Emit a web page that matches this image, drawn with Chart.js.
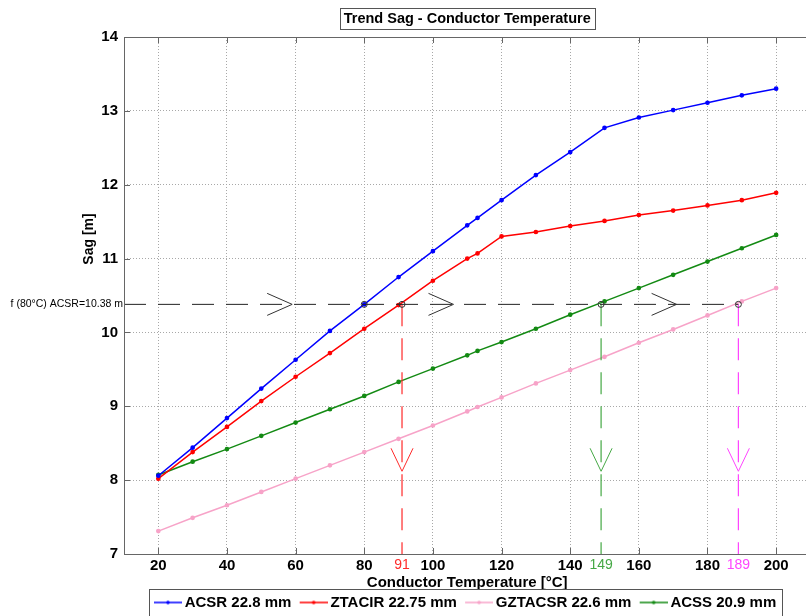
<!DOCTYPE html>
<html>
<head>
<meta charset="utf-8">
<script src="https://cdn.jsdelivr.net/npm/chart.js@4.4.0/dist/chart.umd.min.js"></script>
<style>
    html, body { margin: 0; padding: 0; background: #fff; overflow: hidden; }
</style>
</head>
<body>
<canvas id="sagChart" width="806" height="616"></canvas>
<script>
// conductor temperature [°C]
const temps = [20, 30, 40, 50, 60, 70, 80, 90, 100, 110, 113, 120, 130, 140, 150, 160, 170, 180, 190, 200];
// sag [m]
const sagACSR = [8.06, 8.44, 8.84, 9.24, 9.63, 10.02, 10.38, 10.75, 11.10, 11.45, 11.55, 11.79, 12.13, 12.44, 12.77, 12.91, 13.01, 13.11, 13.21, 13.30];
const sagZTACIR = [8.02, 8.38, 8.72, 9.07, 9.40, 9.72, 10.05, 10.37, 10.70, 11.00, 11.07, 11.30, 11.36, 11.44, 11.51, 11.59, 11.65, 11.72, 11.79, 11.89];
const sagGZTACSR = [7.31, 7.49, 7.66, 7.84, 8.02, 8.20, 8.38, 8.56, 8.74, 8.93, 8.99, 9.12, 9.31, 9.49, 9.67, 9.86, 10.04, 10.23, 10.42, 10.60];
const sagACSS = [8.07, 8.25, 8.42, 8.60, 8.78, 8.96, 9.14, 9.33, 9.51, 9.69, 9.75, 9.87, 10.05, 10.24, 10.42, 10.60, 10.78, 10.96, 11.14, 11.32];

const seriesNames = ['ACSR 22.8 mm', 'ZTACIR 22.75 mm', 'GZTACSR 22.6 mm', 'ACSS 20.9 mm'];
const xTicks = [20, 40, 60, 80, 100, 120, 140, 160, 180, 200];
const yTicks = [7, 8, 9, 10, 11, 12, 13, 14];

// reference: sag of ACSR at 80°C, and where the other conductors reach it
const refTemp = 80;
const refSag = 10.38;
const markTemps = [91, 149, 189];
const arrowTemps = [59, 106, 171];
const downArrowSag = 8.12;

const seriesColors = ['#0000ff', '#ff0000', '#f7a3c8', '#138a13'];
const markColors = ['#ff2a2a', '#45a845', '#ff44ff'];
const FONT = "'Liberation Sans', Arial, sans-serif";

Chart.defaults.font.family = FONT;

// legend sample: 28px line with a dot, shifted so the gap before the text is small
function legendImage(color) {
    var c = document.createElement('canvas');
    c.width = 33; c.height = 6;
    var g = c.getContext('2d');
    g.strokeStyle = color; g.lineWidth = 1.5;
    g.beginPath(); g.moveTo(5, 3); g.lineTo(33, 3); g.stroke();
    g.fillStyle = color;
    g.beginPath(); g.arc(19, 3, 1.8, 0, Math.PI * 2); g.fill();
    return c;
}

function points(xs, ys) {
    return xs.map(function (x, i) { return { x: x, y: ys[i] }; });
}

var seriesData = [sagACSR, sagZTACIR, sagGZTACSR, sagACSS];
var datasets = seriesData.map(function (vals, i) {
    return {
        label: seriesNames[i],
        data: points(temps, vals),
        borderColor: seriesColors[i],
        backgroundColor: seriesColors[i],
        borderWidth: 1.5,
        pointRadius: 1.6,
        pointHoverRadius: 1.6,
        order: 1
    };
});

// horizontal dashed line at the reference sag
datasets.push({
    label: 'ref',
    data: [{ x: 10, y: refSag }, { x: markTemps[2], y: refSag }],
    borderColor: '#222',
    borderWidth: 1,
    borderDash: [22, 12],
    pointRadius: 0,
    order: 0
});
// vertical dashed lines down to the temperature axis
markTemps.forEach(function (t, i) {
    datasets.push({
        label: 'mark' + t,
        data: [{ x: t, y: refSag }, { x: t, y: 7 }],
        borderColor: markColors[i],
        borderWidth: 1.2,
        borderDash: [22, 12],
        pointRadius: 0,
        order: 0
    });
});
// intersection circles
datasets.push({
    label: 'cross',
    data: [refTemp].concat(markTemps).map(function (t) { return { x: t, y: refSag }; }),
    showLine: false,
    pointStyle: 'circle',
    pointRadius: 3,
    pointBorderWidth: 1,
    pointBorderColor: '#333',
    pointBackgroundColor: 'rgba(0,0,0,0)',
    order: -1
});

function chevronRight(ctx, tipX, y) {
    ctx.beginPath();
    ctx.moveTo(tipX - 25, y - 11);
    ctx.lineTo(tipX, y);
    ctx.lineTo(tipX - 25, y + 11);
    ctx.stroke();
}
function chevronDown(ctx, x, tipY) {
    ctx.beginPath();
    ctx.moveTo(x - 11, tipY - 23);
    ctx.lineTo(x, tipY);
    ctx.lineTo(x + 11, tipY - 23);
    ctx.stroke();
}

const decor = {
    id: 'decor',
    afterDraw: function (chart) {
        var ctx = chart.ctx, a = chart.chartArea;
        var xs = chart.scales.x, ys = chart.scales.y;
        var midX = xs.getPixelForValue(110);
        ctx.save();

        // axes box + inner ticks
        ctx.strokeStyle = '#666'; ctx.lineWidth = 1; ctx.setLineDash([]);
        ctx.strokeRect(a.left + 0.5, a.top + 0.5, a.right - a.left + 20, a.bottom - a.top);
        ctx.beginPath();
        xTicks.forEach(function (t) {
            var px = Math.round(xs.getPixelForValue(t)) + 0.5;
            ctx.moveTo(px, a.top); ctx.lineTo(px, a.top + 6);
            ctx.moveTo(px, a.bottom); ctx.lineTo(px, a.bottom - 6);
        });
        yTicks.forEach(function (v) {
            var py = Math.round(ys.getPixelForValue(v)) + 0.5;
            ctx.moveTo(a.left, py); ctx.lineTo(a.left + 6, py);
        });
        ctx.stroke();

        // arrows
        var ry = ys.getPixelForValue(refSag);
        ctx.lineWidth = 1;
        ctx.strokeStyle = '#333';
        arrowTemps.forEach(function (t) { chevronRight(ctx, xs.getPixelForValue(t), ry); });
        markTemps.forEach(function (t, i) {
            ctx.strokeStyle = markColors[i];
            chevronDown(ctx, xs.getPixelForValue(t), ys.getPixelForValue(downArrowSag));
        });

        // reference label
        ctx.fillStyle = '#000';
        ctx.font = '10.5px ' + FONT;
        ctx.textAlign = 'right'; ctx.textBaseline = 'middle';
        ctx.fillText('f (80°C) ACSR=10.38 m', a.left - 1, ry);

        // title in a box
        ctx.font = 'bold 14.5px ' + FONT;
        ctx.textAlign = 'center';
        var title = 'Trend Sag - Conductor Temperature';
        var tw = ctx.measureText(title).width;
        ctx.fillText(title, midX, 19);
        ctx.strokeStyle = '#555';
        ctx.strokeRect(Math.round(midX - tw / 2 - 4) + 0.5, 8.5, Math.round(tw + 8), 21);

        // axis titles
        ctx.font = 'bold 15px ' + FONT;
        ctx.fillText('Conductor Temperature [°C]', midX, 583);
        ctx.save();
        ctx.translate(89, 239);
        ctx.rotate(-Math.PI / 2);
        ctx.font = 'bold 14px ' + FONT;
        ctx.fillText('Sag [m]', 0, 0);
        ctx.restore();

        // legend frame
        var lg = chart.legend, boxes = lg.legendHitBoxes;
        if (boxes && boxes.length) {
            var l = boxes[0].left - 5;
            var last = boxes[boxes.length - 1];
            var r = last.left + last.width + 5;
            ctx.strokeStyle = '#555';
            ctx.strokeRect(Math.round(l) + 0.5, 589.5, Math.round(r - l), 40);
        }
        ctx.restore();
    }
};

new Chart(document.getElementById('sagChart'), {
    type: 'line',
    data: { datasets: datasets },
    options: {
        responsive: false,
        animation: false,
        devicePixelRatio: 1,
        layout: { autoPadding: false, padding: { top: 37, left: 0, right: 0, bottom: -4 } },
        scales: {
            x: {
                type: 'linear',
                min: 10,
                max: 208.7,
                afterBuildTicks: function (scale) {
                    scale.ticks = xTicks.concat(markTemps).sort(function (p, q) { return p - q; })
                        .map(function (v) { return { value: v }; });
                },
                afterFit: function (scale) { scale.height = 33; },
                grid: {
                    color: function (c) {
                        return c.tick && markTemps.indexOf(c.tick.value) >= 0 ? 'rgba(0,0,0,0)' : '#a8a8a8';
                    },
                    lineWidth: 1,
                    tickLength: 0,
                    drawTicks: false
                },
                border: { display: false, dash: [1, 2] },
                ticks: {
                    autoSkip: false,
                    maxRotation: 0,
                    padding: 3,
                    color: function (c) {
                        var k = markTemps.indexOf(c.tick.value);
                        return k >= 0 ? markColors[k] : '#000';
                    },
                    font: function (c) {
                        var k = c.tick ? markTemps.indexOf(c.tick.value) : -1;
                        return k >= 0 ? { size: 14, weight: 'normal' } : { size: 15, weight: 'bold' };
                    },
                    callback: function (v) { return String(v); }
                }
            },
            y: {
                min: 7,
                max: 14,
                afterBuildTicks: function (scale) {
                    scale.ticks = yTicks.map(function (v) { return { value: v }; });
                },
                afterFit: function (scale) { scale.width = 124; },
                grid: { color: '#a8a8a8', lineWidth: 1, tickLength: 0, drawTicks: false },
                border: { display: false, dash: [1, 2] },
                ticks: {
                    padding: 6,
                    color: '#000',
                    font: { size: 15, weight: 'bold' }
                }
            }
        },
        plugins: {
            tooltip: { enabled: false },
            legend: {
                position: 'bottom',
                fullSize: false,
                labels: {
                    usePointStyle: true,
                    pointStyleWidth: 23.5,
                    padding: 8,
                    color: '#000',
                    font: { size: 15, weight: 'bold' },
                    generateLabels: function () {
                        return seriesNames.map(function (name, i) {
                            return {
                                text: name,
                                pointStyle: legendImage(seriesColors[i]),
                                fontColor: '#000',
                                lineWidth: 0,
                                datasetIndex: i,
                                hidden: false
                            };
                        });
                    }
                }
            }
        }
    },
    plugins: [decor]
});
</script>
</body>
</html>
